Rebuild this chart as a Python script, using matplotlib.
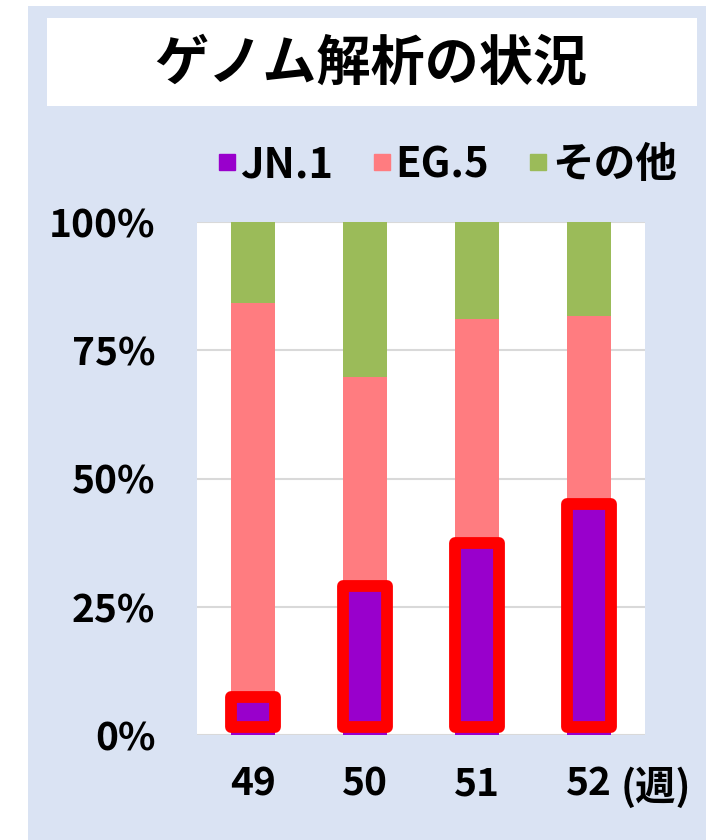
import numpy as np
import matplotlib
matplotlib.use("Agg")
import matplotlib.pyplot as plt
from matplotlib.patches import Rectangle
from matplotlib.lines import Line2D

plt.rcParams['font.family'] = ['Noto Sans CJK JP', 'DejaVu Sans']

# data (percent of sequenced samples per week)
weeks = ['49', '50', '51', '52']
jn1 = [7.5, 29.0, 37.4, 45.1]
eg5 = [76.7, 40.8, 43.7, 36.6]
other = [15.8, 30.2, 18.9, 18.3]
yticks = [0, 25, 50, 75, 100]
ytick_labels = ['0%', '25%', '50%', '75%', '100%']

C_JN1 = '#9900cc'
C_EG5 = '#ff7c80'
C_OTHER = '#9bbb59'
C_BG = '#dae3f3'

W, H = 717, 840
fig = plt.figure(figsize=(W / 100, H / 100), dpi=100)
fig.patch.set_facecolor('white')

# light-blue panel and white title box (pixel coords from top-left)
def px_rect(x0, y0, x1, y1, color):
    fig.patches.append(Rectangle((x0 / W, 1 - y1 / H), (x1 - x0) / W, (y1 - y0) / H,
                                 transform=fig.transFigure, facecolor=color,
                                 edgecolor='none', zorder=-10))

px_rect(28, 6, 706, 840, C_BG)
px_rect(47, 18, 697, 106, 'white')
fig.text(371 / W, 1 - 64 / H, 'ゲノム解析の状況', ha='center', va='center',
         fontsize=39, fontweight='bold', color='black')

ax = fig.add_axes([197 / W, 1 - 735 / H, 448 / W, 513 / H])
ax.set_facecolor('white')

x = np.arange(len(weeks))
bw = 0.4
jn1 = np.array(jn1)
eg5 = np.array(eg5)
other = np.array(other)
ax.bar(x, jn1, bw, color=C_JN1, zorder=2)
ax.bar(x, eg5, bw, bottom=jn1, color=C_EG5, zorder=2)
ax.bar(x, other, bw, bottom=jn1 + eg5, color=C_OTHER, zorder=2)

# red highlight boxes around JN.1 segments
for xi, v in zip(x, jn1):
    ax.add_patch(Rectangle((xi - bw / 2, 1.5), bw, v - 1.5, fill=False,
                           edgecolor='#ff0000', lw=8.5, joinstyle='round',
                           zorder=3, clip_on=False))

ax.set_xlim(-0.5, len(weeks) - 0.5)
ax.set_ylim(0, 100)
ax.set_yticks(yticks)
ax.set_yticklabels(ytick_labels)
ax.set_xticks(x)
ax.set_xticklabels(weeks)
ax.tick_params(length=0, labelsize=28)
ax.tick_params(axis='y', pad=30)
ax.tick_params(axis='x', pad=21)
for lab in ax.get_xticklabels() + ax.get_yticklabels():
    lab.set_fontweight('bold')
ax.grid(axis='y', color='#d9d9d9', lw=1.5, zorder=1)
for s in ax.spines.values():
    s.set_visible(False)

# unit label after the last week
ax.text(3.28, -10.3, '(週)', transform=ax.transData, ha='left', va='center',
        fontsize=29, fontweight='bold', clip_on=False)

handles = [Line2D([], [], marker='s', ls='none', markersize=12, color=c)
           for c in (C_JN1, C_EG5, C_OTHER)]
fig.legend(handles, ['JN.1', 'EG.5', 'その他'], loc='center',
           bbox_to_anchor=(446 / W, 1 - 165 / H), ncol=3, frameon=False,
           prop={'weight': 'bold', 'size': 30},
           handletextpad=0.05, columnspacing=0.9, handlelength=0.55)

fig.savefig('out.png', dpi=100)
